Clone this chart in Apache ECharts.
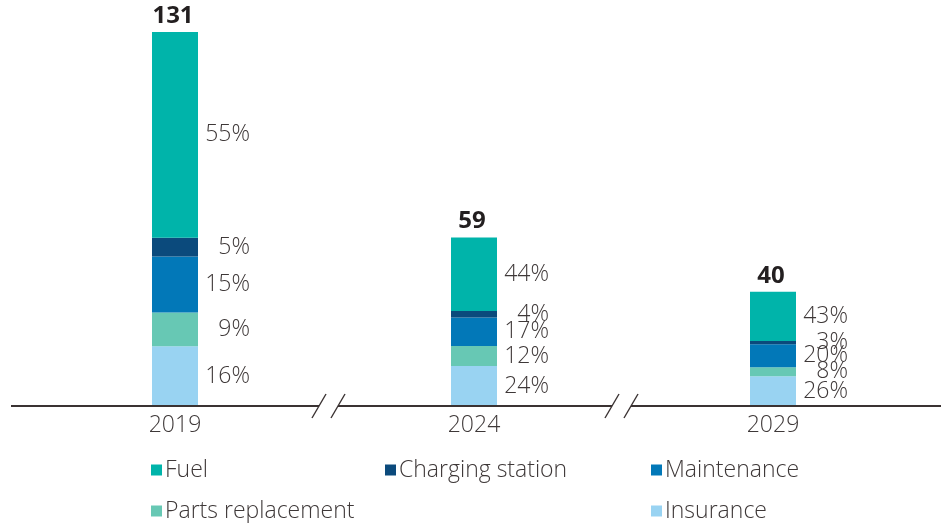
<!DOCTYPE html>
<html>
<head>
<meta charset="utf-8">
<script src="https://cdn.jsdelivr.net/npm/echarts@6/dist/echarts.min.js"></script>
<style>
  html, body { margin: 0; padding: 0; background: #fff; }
  #chart { width: 941px; height: 523px; }
</style>
</head>
<body>
<div id="chart"></div>
<script>
// Years shown on the category axis
const categories = ['2019', '2024', '2029'];
// Total cost per year (shown above each bar)
const totals = [131, 59, 40];
// Share of each cost component in the total, in percent
const fuelPct = [55, 44, 43];
const chargingPct = [5, 4, 3];
const maintenancePct = [15, 17, 20];
const partsPct = [9, 12, 8];
const insurancePct = [16, 24, 26];

const FONT = '"Open Sans", "Noto Sans", sans-serif';
const TEXT = '#3e3838';
const LIGHT = 300;
const SIZE = 23;

// Stacking order, bottom to top
const components = [
  { name: 'Insurance', pct: insurancePct, color: '#99d3f2' },
  { name: 'Parts replacement', pct: partsPct, color: '#67c8b4' },
  { name: 'Maintenance', pct: maintenancePct, color: '#0278b8' },
  { name: 'Charging station', pct: chargingPct, color: '#0b4a7c' },
  { name: 'Fuel', pct: fuelPct, color: '#00b4aa' }
];

// Percent sums per year, so each stack adds up to its total
const pctSums = categories.map((_, i) =>
  components.reduce((s, c) => s + c.pct[i], 0));

const series = components.map(c => ({
  name: c.name,
  type: 'bar',
  stack: 'cost',
  barWidth: 46,
  itemStyle: { color: c.color },
  data: c.pct.map((p, i) => totals[i] * p / pctSums[i]),
  label: {
    show: true,
    position: 'right',
    distance: 52,
    align: 'right',
    fontFamily: FONT,
    fontSize: SIZE,
    fontWeight: LIGHT,
    lineHeight: 20,
    color: TEXT,
    formatter: p => c.pct[p.dataIndex] + '%'
  },
  labelLayout: { moveOverlap: 'shiftY' }
}));

// Zero-height cap carrying the total label on top of each stack
series.push({
  name: 'Total',
  type: 'bar',
  stack: 'cost',
  barWidth: 46,
  silent: true,
  itemStyle: { color: 'transparent' },
  data: totals.map(() => 0),
  label: {
    show: true,
    position: 'top',
    distance: 4,
    offset: [-2, 0],
    fontFamily: FONT,
    fontSize: 24,
    fontWeight: 'bold',
    color: '#231f20',
    formatter: p => String(totals[p.dataIndex])
  }
});

// One legend per item, laid out in a three-column grid
const legendSlots = [
  { name: 'Fuel', left: 151, top: 458 },
  { name: 'Charging station', left: 385, top: 458 },
  { name: 'Maintenance', left: 651, top: 458 },
  { name: 'Parts replacement', left: 151, top: 499 },
  { name: 'Insurance', left: 651, top: 499 }
];
const legends = legendSlots.map(s => ({
  left: s.left,
  top: s.top,
  padding: 0,
  itemWidth: 11,
  itemHeight: 11,
  icon: 'rect',
  selectedMode: false,
  textStyle: { fontFamily: FONT, fontSize: SIZE, fontWeight: LIGHT, color: TEXT, lineHeight: 24, padding: [0, 0, 0, -2] },
  data: [s.name]
}));

const chart = echarts.init(document.getElementById('chart'), null, { renderer: 'canvas' });
chart.setOption({
  animation: false,
  backgroundColor: '#ffffff',
  grid: { left: 25.5, width: 897, top: 32, bottom: 117 },
  xAxis: {
    type: 'category',
    data: categories,
    axisLine: { show: false },
    axisTick: { show: false },
    axisLabel: { fontFamily: FONT, fontSize: SIZE, fontWeight: LIGHT, color: TEXT, margin: 8 }
  },
  yAxis: {
    type: 'value',
    min: 0,
    max: 'dataMax',
    show: false,
    splitLine: { show: false }
  },
  legend: legends,
  series: series
});

// Baseline with two "//" breaks placed halfway between neighbouring years
function drawBaseline() {
  const y = chart.convertToPixel({ yAxisIndex: 0 }, 0);
  const xs = categories.map((c, i) => chart.convertToPixel({ xAxisIndex: 0 }, i));
  const mids = [(xs[0] + xs[1]) / 2 + 4, (xs[1] + xs[2]) / 2 - 2];
  const half = 9.5;   // half distance between the two strokes of a break
  const dx = 7, dy = 12;
  const lineStyle = { stroke: '#3a3232', lineWidth: 2 };
  const slashStyle = { stroke: '#3a3232', lineWidth: 1.4 };
  const elements = [];
  const stops = [11];
  mids.forEach(m => { stops.push(m - half, m + half); });
  stops.push(chart.getWidth());
  for (let k = 0; k < stops.length; k += 2) {
    elements.push({ type: 'line', shape: { x1: stops[k], y1: y, x2: stops[k + 1], y2: y }, style: lineStyle, z: 10 });
  }
  mids.forEach(m => {
    [m - half, m + half].forEach(cx => {
      elements.push({ type: 'line', shape: { x1: cx - dx, y1: y + dy, x2: cx + dx, y2: y - dy }, style: slashStyle, z: 10 });
    });
  });
  chart.setOption({ graphic: elements });
}
drawBaseline();
</script>
</body>
</html>
